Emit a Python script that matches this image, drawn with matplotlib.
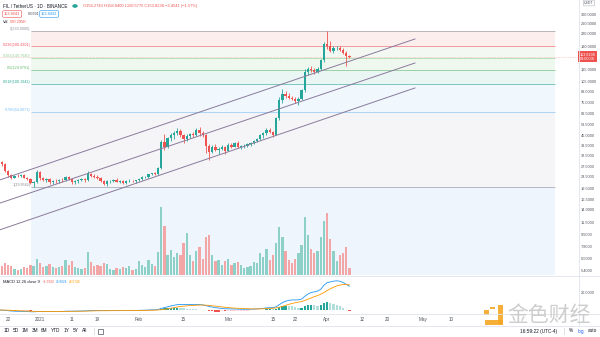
import numpy as np
import pandas as pd
import matplotlib
matplotlib.use('Agg')
import matplotlib.pyplot as plt
import matplotlib.dates as mdates
import matplotlib.transforms as mtransforms
from matplotlib.patches import Rectangle
from matplotlib.ticker import FixedLocator, NullLocator, FuncFormatter

plt.rcParams['font.family'] = ['Liberation Sans', 'DejaVu Sans', 'Noto Sans CJK SC']

# FIL / USDT daily candles, 2020-12-19 .. 2021-04-08
dates = pd.date_range('2020-12-19', '2021-04-08', freq='D')

opens = [29.0, 29.6, 28.4, 25.7, 24.0, 23.0, 23.8, 23.6, 24.0, 23.1, 22.6, 21.2, 21.5,
         25.3, 22.9, 22.2, 22.6, 21.6, 22.0, 21.9, 22.3, 22.1, 23.3, 22.6, 21.5, 21.8, 22.2, 22.5,
         22.1, 24.6, 23.6, 23.4, 22.9, 22.0, 20.9, 21.8, 22.0, 22.3, 21.7, 21.9, 21.2, 21.9, 22.0, 21.8,
         22.1, 22.7, 23.2, 23.4, 24.3, 24.8, 24.5, 26.8, 40.2, 37.6, 42.8, 44.9, 46.4, 48.2, 45.1,
         42.0, 44.6, 45.6, 44.9, 48.9, 46.2, 45.3, 37.8, 34.6, 37.3, 35.7, 36.3, 37.2,
         35.3, 38.7, 37.5, 39.6, 37.1, 37.7, 38.2, 39.3, 39.7, 41.3, 42.2, 45.1, 46.2, 48.9, 47.4,
         45.3, 58.6, 78.1, 86.3, 83.1, 80.6, 79.5, 76.4, 79.6, 90.6, 121.2, 127.1, 124.8, 120.6,
         127.3, 146.1, 186.2, 182.1, 169.2, 175.4, 177.6, 171.1, 163.5, 156.2743]
highs = [30.6, 30.0, 28.9, 26.1, 24.5, 24.2, 24.3, 24.4, 24.5, 23.4, 22.9, 21.9, 26.0,
         25.6, 23.4, 23.0, 23.1, 22.4, 22.6, 22.5, 23.1, 23.6, 23.7, 22.9, 22.3, 22.6, 22.9, 22.9,
         25.5, 25.0, 24.3, 24.0, 23.2, 22.3, 22.2, 22.4, 22.6, 22.8, 22.2, 22.1, 22.1, 22.6, 22.4, 22.3,
         23.0, 23.6, 23.8, 24.6, 25.0, 25.3, 27.2, 41.5, 45.5, 44.0, 46.5, 47.8, 50.5, 49.2, 46.0,
         45.6, 46.8, 47.2, 50.2, 50.8, 47.8, 45.8, 39.2, 38.6, 39.3, 37.1, 38.5, 37.7,
         39.6, 39.7, 40.6, 40.9, 38.3, 38.9, 39.9, 40.3, 41.9, 43.1, 45.9, 47.6, 50.1, 50.6, 48.1,
         60.2, 82.0, 92.0, 90.1, 86.6, 83.2, 82.1, 81.2, 93.2, 126.3, 131.4, 132.2, 129.2, 130.3,
         149.2, 192.4, 230.0, 196.2, 181.3, 181.0, 182.3, 176.2, 168.4, 158.84]
lows = [28.1, 27.8, 25.2, 23.5, 22.5, 22.8, 23.2, 23.2, 22.8, 22.3, 20.8, 19.9582, 21.3,
        22.4, 21.9, 21.6, 20.9, 21.0, 21.4, 21.2, 21.5, 21.9, 22.1, 20.8, 21.0, 21.3, 21.8, 21.6,
        21.9, 23.2, 23.0, 22.6, 21.5, 20.5, 20.3, 21.4, 21.6, 21.5, 21.2, 20.9, 21.0, 21.5, 21.6, 21.4,
        21.8, 22.3, 22.8, 23.0, 23.9, 24.1, 24.2, 26.4, 35.8, 36.5, 41.0, 42.6, 45.0, 44.0, 39.8,
        41.0, 42.8, 43.9, 44.2, 44.6, 44.0, 34.2, 30.6, 33.9, 35.1, 33.6, 35.5, 33.3,
        35.0, 36.7, 37.1, 36.5, 35.9, 37.0, 37.6, 37.9, 39.1, 40.3, 41.6, 43.3, 45.1, 46.6, 43.6,
        44.8, 57.2, 74.2, 80.2, 79.1, 77.4, 74.0, 72.1, 78.0, 88.1, 115.3, 120.4, 117.1, 118.2,
        125.0, 141.0, 174.3, 165.4, 164.1, 170.2, 167.0, 160.1, 132.6, 150.5775]
closes = [29.6, 28.4, 25.7, 24.0, 23.0, 23.8, 23.6, 24.0, 23.1, 22.6, 21.2, 21.5, 25.3,
          22.9, 22.2, 22.6, 21.6, 22.0, 21.9, 22.3, 22.1, 23.3, 22.6, 21.5, 21.8, 22.2, 22.5, 22.1,
          24.6, 23.6, 23.4, 22.9, 22.0, 20.9, 21.8, 22.0, 22.3, 21.7, 21.9, 21.2, 21.9, 22.0, 21.8, 22.1,
          22.7, 23.2, 23.4, 24.3, 24.8, 24.5, 26.8, 40.2, 37.6, 42.8, 44.9, 46.4, 48.2, 45.1, 42.0,
          44.6, 45.6, 44.9, 48.9, 46.2, 45.3, 37.8, 34.6, 37.3, 35.7, 36.3, 37.2, 35.3,
          38.7, 37.5, 39.6, 37.1, 37.7, 38.2, 39.3, 39.7, 41.3, 42.2, 45.1, 46.2, 48.9, 47.4, 45.3,
          58.6, 78.1, 86.3, 83.1, 80.6, 79.5, 76.4, 79.6, 90.6, 121.2, 127.1, 124.8, 120.6, 127.3,
          146.1, 186.2, 182.1, 169.2, 175.4, 177.6, 171.1, 163.5, 156.2777, 153.8236]
# volume in thousand FIL
volumes = [652, 734, 978, 815, 734, 489, 408, 489, 652, 571, 815, 734, 1304,
           978, 652, 734, 897, 652, 571, 652, 734, 1223, 815, 1141, 652, 571, 489, 571,
           1875, 1060, 734, 815, 734, 978, 897, 489, 408, 571, 489, 652, 571, 734, 408, 489,
           1141, 815, 652, 1223, 897, 734, 1875, 5542, 3994, 1630, 2038, 1467, 1793, 1630, 2608,
           3423, 1630, 1141, 1956, 2282, 1304, 3097, 3260, 1630, 1141, 1223, 815, 1141,
           1304, 815, 978, 1060, 815, 571, 652, 734, 1060, 978, 1793, 1467, 2119, 1223, 1630,
           2608, 3912, 3097, 1956, 1223, 978, 1304, 1793, 2445, 4727, 3260, 2119, 1793, 1956,
           3097, 4401, 5053, 2934, 1956, 1141, 1630, 1793, 2282, 570.2956]

fib_high = 230.0
fib_low = 19.9582
fib_levels = [0, 0.236, 0.382, 0.5, 0.618, 0.786, 1]
fib_line_colors = ['#787b86', '#f23645', '#81c784', '#4caf50', '#089981', '#64b5f6', '#787b86']
fib_fill_colors = ['#fdeeee', '#f3f9f2', '#eff8ef', '#eaf6f4', '#f0f7fd', '#f5f5f7']
fib_below_color = '#eff5fd'

price_ticks = [300, 260, 220, 180, 125, 105, 89, 75, 63.5, 53.5, 45, 38.5, 32.5,
               27.5, 23.5, 19.5, 16.5, 14, 11.5, 9.5, 7.8, 6.5, 5.4]

time_ticks = ['2020-12-22', '2021-01-01', '2021-01-11', '2021-01-19', '2021-02-01',
              '2021-02-15', '2021-03-01', '2021-03-15', '2021-03-22', '2021-04-01',
              '2021-04-12', '2021-04-20', '2021-05-01', '2021-05-10']
time_labels = ['22', '2021', '11', '19', 'Feb', '15', 'Mar', '15', '22', 'Apr',
               '12', '20', 'May', '10']

# parallel channel, (start, end) prices for each line
channel_dates = ['2020-12-19 11:00', '2021-04-28 13:00']
channel_prices = [(22.3, 203.0), (15.5, 139.3), (10.2, 94.2)]

W, H = 600, 337


def fx(x):
    return x / W


def fy(y):
    return 1 - y / H


x = mdates.date2num(dates)
o = np.array(opens)
h = np.array(highs)
l = np.array(lows)
c = np.array(closes)
up = c >= o
jan1 = mdates.date2num(pd.Timestamp('2021-01-01'))
xlim = (jan1 - 12.54, jan1 + 168.65)

fig = plt.figure(figsize=(6, 3.37), dpi=100)
fig.patch.set_facecolor('white')

ax = fig.add_axes([0, fy(275), fx(578), 275 / H])
ax.set_yscale('log')
ax.set_xlim(*xlim)
ax.set_ylim(5.02, 374)
for s in ax.spines.values():
    s.set_visible(False)

# fibonacci retracement
fib_x0 = mdates.date2num(pd.Timestamp('2020-12-29 08:00'))
fib_x1 = mdates.date2num(pd.Timestamp('2021-06-11 10:00'))
fib_prices = [fib_high - lv * (fib_high - fib_low) for lv in fib_levels]
for i, col in enumerate(fib_fill_colors):
    ax.fill_between([fib_x0, fib_x1], fib_prices[i + 1], fib_prices[i], color=col, lw=0, zorder=0)
ax.fill_between([fib_x0, fib_x1], 5.02, fib_prices[-1], color=fib_below_color, lw=0, zorder=0)
for lv, p, col in zip(fib_levels, fib_prices, fib_line_colors):
    ax.hlines(p, fib_x0, fib_x1, color=col, lw=0.7, alpha=0.5, zorder=1)
    ax.annotate(f'{lv:g}({p:.4f})', xy=(fib_x0, p), xytext=(-0.8, 1.4),
                textcoords='offset points', ha='right', va='center',
                fontsize=2.7, color=col, alpha=0.85, zorder=5)

# volume, scaled into the lower part of the price pane
vol_top = 22400
vtrans = ax.get_xaxis_transform()
vol_colors = np.where(up, '#8dd0c8', '#f2a7a6')
ax.bar(x, np.array(volumes) / vol_top, width=0.72, bottom=0, color=vol_colors,
       transform=vtrans, zorder=2)

# candles
cand_colors = np.where(up, '#26a69a', '#ef5350')
ax.vlines(x, l, h, color=cand_colors, lw=0.6, zorder=3)
body_lo = np.minimum(o, c)
body_hi = np.maximum(o, c)
body_hi = np.maximum(body_hi, body_lo * 1.006)
ax.bar(x, body_hi - body_lo, width=0.72, bottom=body_lo, color=cand_colors, lw=0, zorder=4)

# channel lines
cx = mdates.date2num(pd.to_datetime(channel_dates))
for p0, p1 in channel_prices:
    ax.plot(cx, [p0, p1], color='#8a7a9c', lw=0.7, zorder=4)

# last price line and label
ax.axhline(c[-1], color='#ef5350', lw=0.5, ls=(0, (1, 1.5)), alpha=0.5, zorder=3)
ptrans = mtransforms.blended_transform_factory(ax.transAxes, ax.transData)
ax.text(1.003, c[-1], f'{c[-1]:.4f}\n03:00:38', transform=ptrans, ha='left', va='center',
        fontsize=2.7, color='white', linespacing=1.1, clip_on=False, zorder=10,
        bbox=dict(boxstyle='square,pad=0.4', fc='#ef5350', ec='none'))

ax.yaxis.tick_right()
ax.yaxis.set_major_locator(FixedLocator(price_ticks))
ax.yaxis.set_minor_locator(NullLocator())
ax.yaxis.set_major_formatter(FuncFormatter(lambda v, pos: f'{v:.4f}'))
ax.tick_params(axis='y', length=0, pad=1.8, labelsize=2.8, labelcolor='#50535e')
ax.set_xticks([])

# MACD pane
axm = fig.add_axes([0, fy(313), fx(578), 37 / H])
cs = pd.Series(closes)
macd = cs.ewm(span=12, adjust=False).mean() - cs.ewm(span=26, adjust=False).mean()
signal = macd.ewm(span=9, adjust=False).mean()
hist = (macd - signal).to_numpy()
prev = np.r_[0, hist[:-1]]
hcol = np.where(hist >= 0, np.where(hist >= prev, '#26a69a', '#b2dfdb'),
                np.where(hist < prev, '#ef5350', '#ffcdd2'))
axm.bar(x, hist, width=0.72, color=hcol, lw=0)
axm.plot(x, macd, color='#2196f3', lw=0.6)
axm.plot(x, signal, color='#ff9800', lw=0.6)
axm.set_xlim(*xlim)
axm.set_ylim(-3.33, 37.8)
for s in axm.spines.values():
    s.set_visible(False)
axm.yaxis.tick_right()
axm.set_yticks([20])
axm.set_yticklabels(['20.0000'])
axm.tick_params(axis='y', length=0, pad=1.8, labelsize=2.8, labelcolor='#50535e')
axm.set_xticks(mdates.date2num(pd.to_datetime(time_ticks)))
axm.set_xticklabels(time_labels)
axm.tick_params(axis='x', length=0, pad=3.0, labelsize=3.3, labelcolor='#50535e')

# pane separators
for yy in (275.5, 313.5, 325.5):
    fig.add_artist(plt.Line2D([0, 1], [fy(yy), fy(yy)], color='#e0e3eb', lw=0.6))
fig.add_artist(plt.Line2D([fx(578.5), fx(578.5)], [fy(325), 1], color='#e0e3eb', lw=0.6))

# header
fig.text(fx(3), fy(6), 'FIL / TetherUS · 1D · BINANCE', fontsize=3.3, color='#131722', va='center')
fig.add_artist(plt.Circle((fx(75), fy(6)), 0.0033, transform=fig.transFigure, color='#26a69a'))
fig.text(fx(83), fy(6), 'O156.2743 H158.8400 L150.5775 C153.8236 −2.4541 (−1.57%)',
         fontsize=2.85, color='#ef5350', va='center')
fig.text(fx(4), fy(14), '153.8041', fontsize=2.8, color='#ef5350', va='center',
         bbox=dict(boxstyle='round,pad=0.35', fc='white', ec='#ef5350', lw=0.4))
fig.text(fx(28), fy(14), '0.0391', fontsize=2.8, color='#50535e', va='center')
fig.text(fx(41), fy(14), '153.8432', fontsize=2.8, color='#2196f3', va='center',
         bbox=dict(boxstyle='round,pad=0.35', fc='white', ec='#2196f3', lw=0.4))
fig.text(fx(3), fy(22), 'Vol', fontsize=2.9, color='#131722', va='center')
fig.text(fx(10), fy(22), '570.295K', fontsize=2.9, color='#ef5350', va='center')
fig.text(fx(589), fy(3), 'USDT', fontsize=2.5, color='#50535e', va='center', ha='center',
         bbox=dict(boxstyle='round,pad=0.25', fc='white', ec='#b2b5be', lw=0.4))

fig.text(fx(3), fy(282), 'MACD 12 26 close 9', fontsize=2.9, color='#131722', va='center')
fig.text(fx(42.5), fy(282), '−1.5922', fontsize=2.3, color='#ef5350', va='center')
fig.text(fx(55.5), fy(282), '26.9824', fontsize=2.3, color='#2196f3', va='center')
fig.text(fx(68.5), fy(282), '28.5746', fontsize=2.3, color='#ff9800', va='center')

# bottom toolbar
for lab, xx in zip(['1D', '5D', '1M', '3M', '6M', 'YTD', '1Y', '5Y', 'All'],
                   [7, 16, 25, 35, 44, 56, 67, 76, 85]):
    fig.text(fx(xx), fy(331), lab, fontsize=3.4, color='#131722', ha='center', va='center')
fig.add_artist(plt.Line2D([fx(94), fx(94)], [fy(328), fy(334)], color='#d1d4dc', lw=0.5))
fig.add_artist(Rectangle((fx(98), fy(333.5)), fx(5), 4.5 / H, transform=fig.transFigure,
                         fill=False, ec='#50535e', lw=0.5))
fig.text(fx(539), fy(331), '16:59:22 (UTC-4)', fontsize=3.4, color='#131722', ha='center', va='center')
fig.add_artist(plt.Line2D([fx(564), fx(564)], [fy(328), fy(334)], color='#d1d4dc', lw=0.5))
fig.text(fx(571), fy(331), '%', fontsize=3.4, color='#131722', ha='center', va='center')
fig.text(fx(581), fy(331), 'log', fontsize=3.4, color='#2962ff', ha='center', va='center')
fig.text(fx(592), fy(331), 'auto', fontsize=3.4, color='#131722', ha='center', va='center')

# watermark
orange = '#f5a623'
for (x0, y0, w, hh) in [(484, 310, 5, 5), (490, 306.5, 5, 2.5), (498, 305, 5, 19), (485, 320, 18, 5)]:
    fig.add_artist(Rectangle((fx(x0), fy(y0 + hh)), w / W, hh / H, transform=fig.transFigure,
                             fc=orange, ec='none', alpha=0.9))
fig.text(fx(507), fy(315), '金色财经', fontsize=15, color='#c8c8c8', va='center', ha='left',
         family=['Noto Sans CJK SC', 'DejaVu Sans'], alpha=0.9)

fig.savefig('out.png', dpi=100)
